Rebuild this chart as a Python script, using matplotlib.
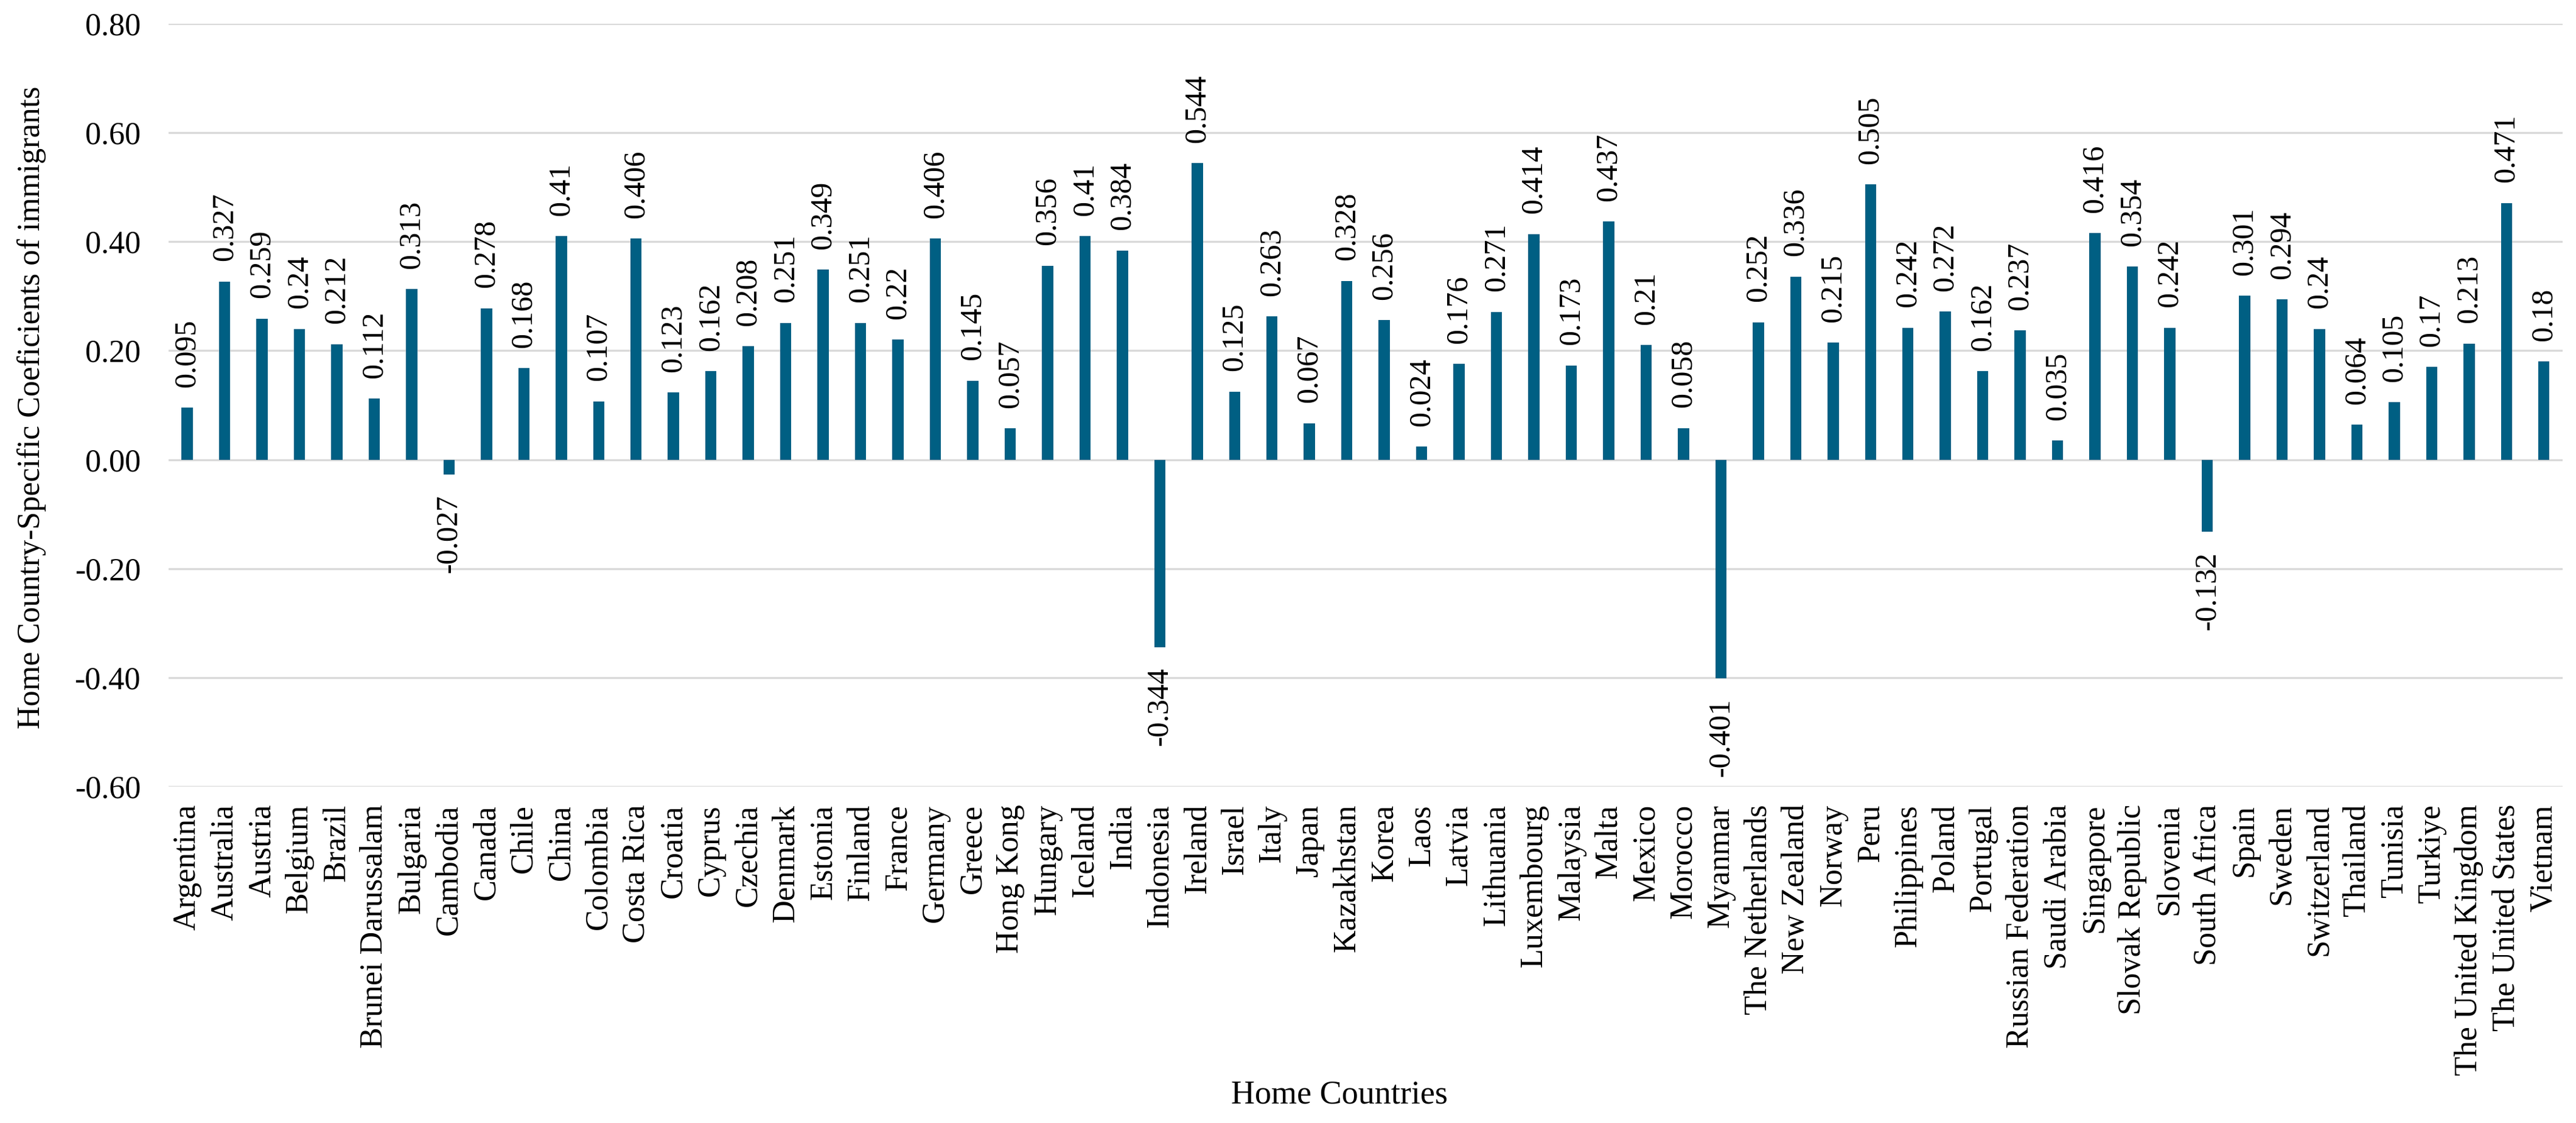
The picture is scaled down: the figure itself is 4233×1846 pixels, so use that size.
import numpy as np
import matplotlib
matplotlib.use('Agg')
import matplotlib.pyplot as plt

plt.rcParams['font.family'] = ['Liberation Serif', 'DejaVu Serif']

## dados
paises = ['Argentina', 'Australia', 'Austria', 'Belgium', 'Brazil', 'Brunei Darussalam',
          'Bulgaria', 'Cambodia', 'Canada', 'Chile', 'China', 'Colombia', 'Costa Rica',
          'Croatia', 'Cyprus', 'Czechia', 'Denmark', 'Estonia', 'Finland', 'France',
          'Germany', 'Greece', 'Hong Kong', 'Hungary', 'Iceland', 'India', 'Indonesia',
          'Ireland', 'Israel', 'Italy', 'Japan', 'Kazakhstan', 'Korea', 'Laos', 'Latvia',
          'Lithuania', 'Luxembourg', 'Malaysia', 'Malta', 'Mexico', 'Morocco', 'Myanmar',
          'The Netherlands', 'New Zealand', 'Norway', 'Peru', 'Philippines', 'Poland',
          'Portugal', 'Russian Federation', 'Saudi Arabia', 'Singapore', 'Slovak Republic',
          'Slovenia', 'South Africa', 'Spain', 'Sweden', 'Switzerland', 'Thailand',
          'Tunisia', 'Turkiye', 'The United Kingdom', 'The United States', 'Vietnam']
coef = [0.095, 0.327, 0.259, 0.24, 0.212, 0.112,
        0.313, -0.027, 0.278, 0.168, 0.41, 0.107, 0.406,
        0.123, 0.162, 0.208, 0.251, 0.349, 0.251, 0.22,
        0.406, 0.145, 0.057, 0.356, 0.41, 0.384, -0.344,
        0.544, 0.125, 0.263, 0.067, 0.328, 0.256, 0.024, 0.176,
        0.271, 0.414, 0.173, 0.437, 0.21, 0.058, -0.401,
        0.252, 0.336, 0.215, 0.505, 0.242, 0.272,
        0.162, 0.237, 0.035, 0.416, 0.354,
        0.242, -0.132, 0.301, 0.294, 0.24, 0.064,
        0.105, 0.17, 0.213, 0.471, 0.18]
yticks = [-0.6, -0.4, -0.2, 0.0, 0.2, 0.4, 0.6, 0.8]

## grafico
fig = plt.figure(figsize=(4233/300, 1846/300), dpi=300)
ax = fig.add_axes([0.0654, 0.2996, 0.9294, 0.6793])

x = np.arange(len(paises))
ax.bar(x, coef, width=0.3, color='#005F83', zorder=3)

# rotulos dos valores (formato do Excel: sem zeros a direita)
for xi, v in zip(x, coef):
    r = ('%.3f' % v).rstrip('0')
    if v >= 0:
        ax.annotate(r, (xi, v), xytext=(0, 8), textcoords='offset points',
                    rotation=90, ha='center', va='bottom', fontsize=12)
    else:
        ax.annotate(r, (xi, v), xytext=(0, -8), textcoords='offset points',
                    rotation=90, ha='center', va='top', fontsize=12)

ax.set_xlim(-0.5, len(paises) - 0.5)
ax.set_ylim(-0.6, 0.8)
ax.set_yticks(yticks)
ax.set_yticklabels(['%.2f' % t for t in yticks], fontsize=12.5)
ax.set_xticks(x)
ax.set_xticklabels(paises, rotation=90, fontsize=12.5)
ax.tick_params(axis='x', length=0, pad=7)
ax.tick_params(axis='y', length=0, pad=11)
ax.grid(axis='y', color='#D9D9D9', linewidth=0.8, zorder=0)
for s in ax.spines.values():
    s.set_visible(False)

fig.text(0.0123, 0.637, 'Home Country-Specific Coeficients of immigrants',
         rotation=90, ha='center', va='center', fontsize=12.5)
fig.text(0.52, 0.025, 'Home Countries', ha='center', va='center', fontsize=13)

plt.savefig('out.png', dpi=300)
